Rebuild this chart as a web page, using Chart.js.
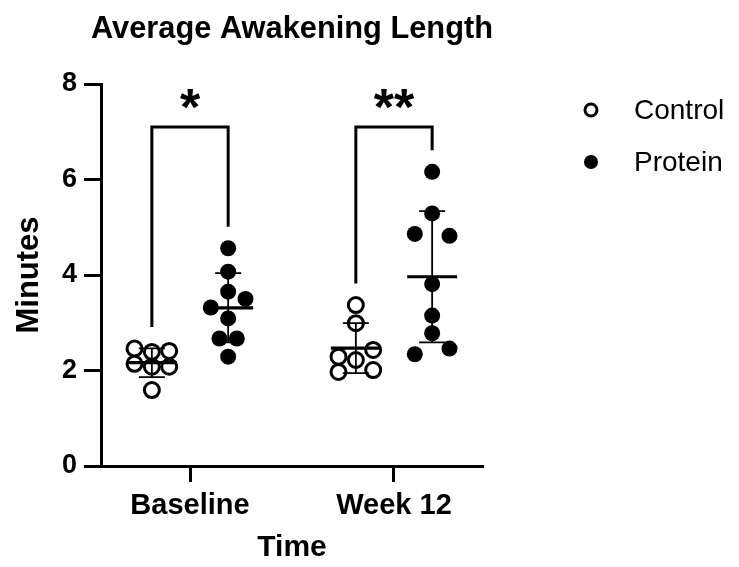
<!DOCTYPE html>
<html><head><meta charset="utf-8">
<script src="https://cdn.jsdelivr.net/npm/chart.js@4"></script>
<style>html,body{margin:0;padding:0;background:#fff}#wrap{width:739px;height:567px}</style>
</head><body><div id="wrap"><canvas id="c" width="739" height="567"></canvas></div>
<script>
const chartTitle = 'Average Awakening Length';
const categories = ['Baseline', 'Week 12'];
const seriesNames = ['Control', 'Protein'];
const yTicks = [0, 2, 4, 6, 8];
const controlBaseline = [2.46, 2.39, 2.41, 2.14, 2.08, 2.08, 1.59];
const controlWeek12 = [3.37, 2.99, 2.43, 2.29, 2.22, 1.97, 2.01];
const proteinBaseline = [4.56, 4.07, 3.65, 3.50, 3.32, 3.09, 2.67, 2.67, 2.29];
const proteinWeek12 = [6.16, 5.29, 4.86, 4.82, 3.81, 3.15, 2.78, 2.34, 2.46];
// column slot of each point inside its scatter column (swarm arrangement)
const controlBaselineSlots = [-1, 0, 1, -1, 0, 1, 0];
const controlWeek12Slots = [0, 0, 1, -1, 0, -1, 1];
const proteinBaselineSlots = [0, 0, 0, 1, -1, 0, -0.5, 0.5, 0];
const proteinWeek12Slots = [0, 0, -1, 1, 0, 0, 0, -1, 1];
const significance = ['*', '**'];

const FONT = "'Liberation Sans', Arial, Helvetica, sans-serif";
const GROUP_OFFSET = 0.187;
const SLOT_W = 0.085;

function toPoints(groups, slots, side) {
  const pts = [];
  groups.forEach((vals, gi) => {
    vals.forEach((v, i) => {
      pts.push({x: gi + 1 + side * GROUP_OFFSET + slots[gi][i] * SLOT_W, y: v});
    });
  });
  return pts;
}
const mean = a => a.reduce((s, v) => s + v, 0) / a.length;
const sd = a => { const m = mean(a); return Math.sqrt(a.reduce((s, v) => s + (v - m) * (v - m), 0) / (a.length - 1)); };

const controlGroups = [controlBaseline, controlWeek12];
const proteinGroups = [proteinBaseline, proteinWeek12];

const datasets = [
  {
    label: seriesNames[0],
    data: toPoints(controlGroups, [controlBaselineSlots, controlWeek12Slots], -1),
    groups: controlGroups, side: -1,
    pointStyle: 'circle', pointRadius: 7.5, pointBorderWidth: 3,
    pointBackgroundColor: '#ffffff', pointBorderColor: '#000000',
    showLine: false
  },
  {
    label: seriesNames[1],
    data: toPoints(proteinGroups, [proteinBaselineSlots, proteinWeek12Slots], 1),
    groups: proteinGroups, side: 1,
    pointStyle: 'circle', pointRadius: 8, pointBorderWidth: 0,
    pointBackgroundColor: '#000000', pointBorderColor: '#000000',
    showLine: false
  }
];

const errorBars = {
  id: 'errorBars',
  afterDatasetsDraw(chart) {
    const {ctx, scales: {x, y}} = chart;
    ctx.save();
    ctx.strokeStyle = '#000';
    chart.data.datasets.forEach(ds => {
      ds.groups.forEach((vals, gi) => {
        const m = mean(vals), s = sd(vals);
        const cx = x.getPixelForValue(gi + 1 + ds.side * GROUP_OFFSET);
        const yt = y.getPixelForValue(m + s), yb = y.getPixelForValue(m - s), ym = y.getPixelForValue(m);
        ctx.lineWidth = 1.8;
        ctx.beginPath();
        ctx.moveTo(cx, yt); ctx.lineTo(cx, yb);
        ctx.moveTo(cx - 13, yt); ctx.lineTo(cx + 13, yt);
        ctx.moveTo(cx - 13, yb); ctx.lineTo(cx + 13, yb);
        ctx.stroke();
        ctx.lineWidth = 3.2;
        ctx.beginPath();
        ctx.moveTo(cx - 25, ym); ctx.lineTo(cx + 25, ym);
        ctx.stroke();
      });
    });
    ctx.restore();
  }
};

const BRACKET_TOP = 7.1;
const BRACKET_GAP = 0.45;
const brackets = {
  id: 'brackets',
  afterDatasetsDraw(chart) {
    const {ctx, scales: {x, y}} = chart;
    ctx.save();
    ctx.strokeStyle = '#000';
    ctx.fillStyle = '#000';
    ctx.lineWidth = 3;
    ctx.lineJoin = 'miter';
    categories.forEach((c, gi) => {
      const xl = x.getPixelForValue(gi + 1 - GROUP_OFFSET);
      const xr = x.getPixelForValue(gi + 1 + GROUP_OFFSET);
      const yTop = y.getPixelForValue(BRACKET_TOP);
      const ylb = y.getPixelForValue(Math.max(...controlGroups[gi]) + BRACKET_GAP);
      const yrb = y.getPixelForValue(Math.max(...proteinGroups[gi]) + BRACKET_GAP);
      ctx.beginPath();
      ctx.moveTo(xl, ylb); ctx.lineTo(xl, yTop); ctx.lineTo(xr, yTop); ctx.lineTo(xr, yrb);
      ctx.stroke();
      ctx.font = 'bold 52px ' + FONT;
      ctx.textAlign = 'center';
      ctx.textBaseline = 'alphabetic';
      ctx.fillText(significance[gi], (xl + xr) / 2, yTop - 2);
    });
    ctx.restore();
  }
};

const titlePlugin = {
  id: 'centeredTitle',
  afterDraw(chart) {
    const {ctx, chartArea} = chart;
    ctx.save();
    ctx.fillStyle = '#000';
    ctx.font = 'bold 32px ' + FONT;
    ctx.textAlign = 'center';
    ctx.textBaseline = 'middle';
    ctx.fillText(chartTitle, (chartArea.left + chartArea.right) / 2, 29, 402);
    ctx.restore();
  }
};

const legendPlugin = {
  id: 'customLegend',
  afterDraw(chart) {
    const {ctx, chartArea} = chart;
    ctx.save();
    const mx = chartArea.right + 108, tx = chartArea.right + 151;
    const rows = [110, 162];
    chart.data.datasets.forEach((ds, i) => {
      const cy = rows[i];
      ctx.beginPath();
      if (i === 0) {
        ctx.arc(mx, cy, 6, 0, Math.PI * 2);
        ctx.fillStyle = '#fff'; ctx.fill();
        ctx.lineWidth = 3; ctx.strokeStyle = '#000'; ctx.stroke();
      } else {
        ctx.arc(mx, cy, 7, 0, Math.PI * 2);
        ctx.fillStyle = '#000'; ctx.fill();
      }
      ctx.fillStyle = '#000';
      ctx.font = '28px ' + FONT;
      ctx.textAlign = 'left';
      ctx.textBaseline = 'middle';
      ctx.fillText(ds.label, tx, cy + 1);
    });
    ctx.restore();
  }
};

new Chart(document.getElementById('c'), {
  type: 'scatter',
  data: {datasets},
  plugins: [errorBars, brackets, titlePlugin, legendPlugin],
  options: {
    responsive: false,
    animation: false,
    events: [],
    layout: {padding: {left: 0, right: 256, top: 84, bottom: 0}},
    plugins: {
      legend: {display: false},
      tooltip: {enabled: false},
      title: {display: false}
    },
    scales: {
      x: {
        type: 'linear', min: 0.5637, max: 2.4363,
        afterBuildTicks: s => { s.ticks = categories.map((c, i) => ({value: i + 1})); },
        afterFit: s => { s.height = 101; },
        ticks: {
          autoSkip: false, maxRotation: 0, padding: 7, color: '#000',
          font: {family: FONT, size: 29, weight: 'bold'},
          callback: v => categories[Math.round(v) - 1]
        },
        grid: {display: true, drawOnChartArea: false, drawTicks: true, tickLength: 16, tickWidth: 3, tickColor: '#000'},
        border: {display: true, width: 3, color: '#000'},
        title: {display: true, text: 'Time', color: '#000', font: {family: FONT, size: 30, weight: 'bold'}, padding: {top: 0, bottom: 1}}
      },
      y: {
        type: 'linear', min: 0, max: 8,
        afterBuildTicks: s => { s.ticks = yTicks.map(v => ({value: v})); },
        afterFit: s => { s.width = 101; },
        ticks: {padding: 7, color: '#000', font: {family: FONT, size: 27, weight: 'bold'}},
        grid: {display: true, drawOnChartArea: false, drawTicks: true, tickLength: 17, tickWidth: 3, tickColor: '#000'},
        border: {display: true, width: 3, color: '#000'},
        title: {display: true, text: 'Minutes', color: '#000', font: {family: FONT, size: 31, weight: 'bold'}, padding: {top: 11, bottom: 0}}
      }
    }
  }
});
</script>
</body></html>
